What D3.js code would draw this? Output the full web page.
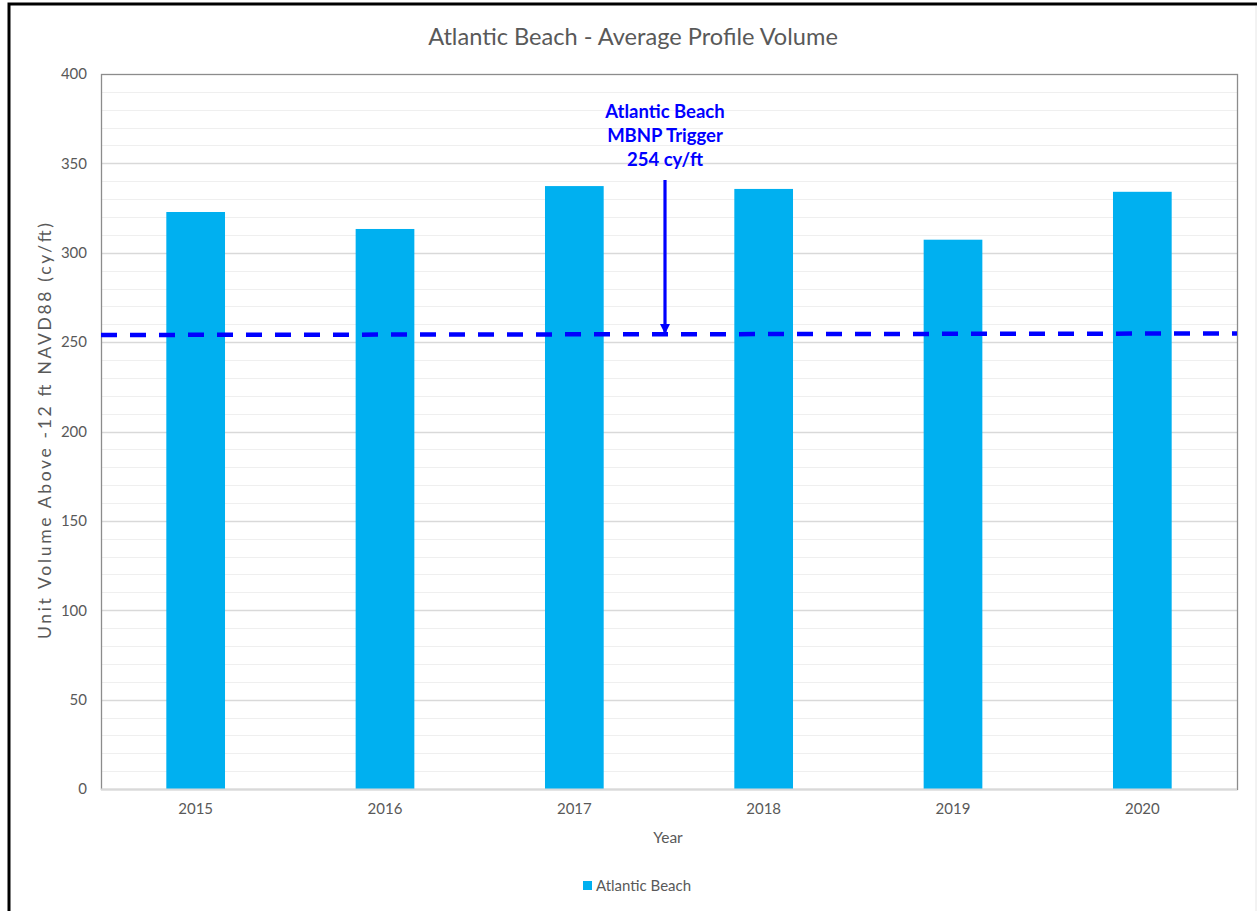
<!DOCTYPE html>
<html>
<head>
<meta charset="utf-8">
<script src="https://cdn.jsdelivr.net/npm/d3@7"></script>
<style>
  html, body { margin: 0; padding: 0; background: #fff; }
  svg { display: block; }
  text { font-family: Lato, "Open Sans", sans-serif; }
</style>
</head>
<body>
<svg id="chart" width="1257" height="911"></svg>
<script>
// Average profile volume per survey year (cy/ft above -12 ft NAVD88)
const years = ["2015", "2016", "2017", "2018", "2019", "2020"];
const volumes = [322.8, 313.3, 337.3, 335.7, 307.3, 334.1];
const yTicks = [0, 50, 100, 150, 200, 250, 300, 350, 400];
const triggerValue = 254;
const triggerLabel = ["Atlantic Beach", "MBNP Trigger", "254 cy/ft"];
const seriesName = "Atlantic Beach";

const svg = d3.select("#chart");
const W = 1257, H = 911;
const m = { left: 101, right: 20, top: 74, bottom: 122 };
const plotW = 1237 - m.left, plotH = 789 - m.top;

// outer chart frame
svg.append("rect").attr("x", 9).attr("y", 4).attr("width", 1260).attr("height", 930)
  .attr("fill", "none").attr("stroke", "#000").attr("stroke-width", 3);
svg.append("line").attr("x1", 1256).attr("x2", 1256).attr("y1", 6).attr("y2", H)
  .attr("stroke", "#e6e6e6").attr("stroke-width", 1);

const g = svg.append("g").attr("transform", `translate(${m.left},${m.top})`);

const x = d3.scaleBand().domain(years).range([0, plotW]).paddingInner(0.69).paddingOuter(0.345);
const y = d3.scaleLinear().domain([0, 400]).range([plotH, 0]);

// minor gridlines every 10
g.append("g").selectAll("line").data(d3.range(10, 400, 10).filter(v => v % 50 !== 0))
  .join("line")
  .attr("x1", 0).attr("x2", plotW)
  .attr("y1", d => Math.round(y(d)) + 0.5).attr("y2", d => Math.round(y(d)) + 0.5)
  .attr("stroke", "#efefef").attr("stroke-width", 1);

// major gridlines every 50
g.append("g").selectAll("line").data(yTicks.filter(v => v > 0 && v < 400))
  .join("line")
  .attr("x1", 0).attr("x2", plotW)
  .attr("y1", d => Math.round(y(d)) + 0.5).attr("y2", d => Math.round(y(d)) + 0.5)
  .attr("stroke", "#d9d9d9").attr("stroke-width", 1.3);

// plot area border
g.append("rect").attr("x", 0.5).attr("y", 0.5).attr("width", plotW).attr("height", plotH)
  .attr("fill", "none").attr("stroke", "#8c8c8c").attr("stroke-width", 1.3);

// bars
g.append("g").selectAll("rect").data(volumes)
  .join("rect")
  .attr("x", (d, i) => x(years[i]))
  .attr("width", x.bandwidth())
  .attr("y", d => y(d))
  .attr("height", d => plotH - y(d))
  .attr("fill", "#00b0f0");

// x axis baseline
g.append("line").attr("x1", 0).attr("x2", plotW).attr("y1", plotH + 0.5).attr("y2", plotH + 0.5)
  .attr("stroke", "#d9d9d9").attr("stroke-width", 2);

// y axis
const yAxis = g.append("g").call(d3.axisLeft(y).tickValues(yTicks).tickSize(0).tickPadding(14));
yAxis.select(".domain").remove();
yAxis.selectAll("text").attr("fill", "#595959").attr("font-size", 15)
  .style("font-family", "Lato, 'Open Sans', sans-serif");

// x axis
const xAxis = g.append("g").attr("transform", `translate(0,${plotH})`)
  .call(d3.axisBottom(x).tickSize(0).tickPadding(14));
xAxis.select(".domain").remove();
xAxis.selectAll("text").attr("fill", "#595959").attr("font-size", 15)
  .style("font-family", "Lato, 'Open Sans', sans-serif");

// trigger line
g.append("line")
  .attr("x1", 0).attr("x2", plotW)
  .attr("y1", y(triggerValue)).attr("y2", y(triggerValue) - 1.5)
  .attr("stroke", "#0000ff").attr("stroke-width", 4.5)
  .attr("stroke-dasharray", "16,13");

// annotation arrow
const ax = 564;
svg.append("defs").append("marker")
  .attr("id", "arrowhead").attr("viewBox", "0 0 10 10")
  .attr("refX", 10).attr("refY", 5)
  .attr("markerWidth", 3.2).attr("markerHeight", 3.2)
  .attr("markerUnits", "strokeWidth")
  .attr("orient", "auto")
  .append("path").attr("d", "M0,0 L10,5 L0,10 Z").attr("fill", "#0000ff");
g.append("line")
  .attr("x1", ax).attr("x2", ax)
  .attr("y1", 106).attr("y2", y(triggerValue) - 1)
  .attr("stroke", "#0000ff").attr("stroke-width", 3.2)
  .attr("marker-end", "url(#arrowhead)");

const ann = g.append("text").attr("text-anchor", "middle")
  .attr("fill", "#0000ff").attr("font-size", 18.5).attr("font-weight", "bold");
triggerLabel.forEach((t, i) => {
  ann.append("tspan").attr("x", ax).attr("y", 44 + i * 24).text(t);
});

// title
svg.append("text").attr("x", 633).attr("y", 45).attr("text-anchor", "middle")
  .attr("fill", "#595959").attr("font-size", 23.6)
  .text("Atlantic Beach - Average Profile Volume");

// axis titles
svg.append("text").attr("x", 668).attr("y", 843).attr("text-anchor", "middle")
  .attr("fill", "#595959").attr("font-size", 15.5).text("Year");
svg.append("text")
  .attr("transform", "translate(51,431) rotate(-90)")
  .attr("text-anchor", "middle").attr("fill", "#595959").attr("font-size", 17.5)
  .attr("textLength", 416).attr("lengthAdjust", "spacing")
  .text("Unit Volume Above -12 ft NAVD88  (cy/ft)");

// legend
const lg = svg.append("g").attr("transform", "translate(583,881)");
lg.append("rect").attr("x", 0).attr("y", 0).attr("width", 9).attr("height", 9).attr("fill", "#00b0f0");
lg.append("text").attr("x", 13).attr("y", 10).attr("fill", "#595959").attr("font-size", 15)
  .text(seriesName);
</script>
</body>
</html>
